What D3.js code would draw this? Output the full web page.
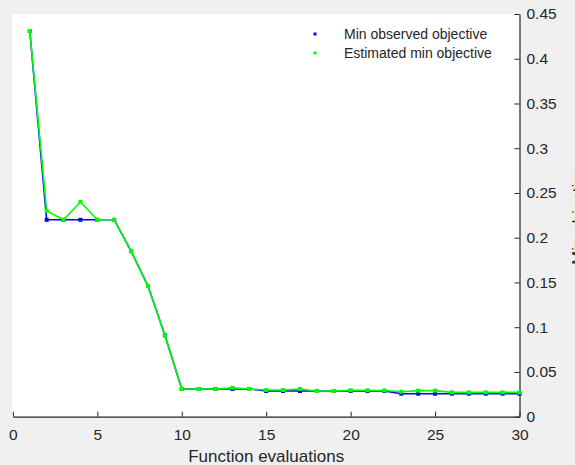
<!DOCTYPE html>
<html>
<head>
<meta charset="utf-8">
<script src="https://cdn.jsdelivr.net/npm/d3@7"></script>
<style>
  html, body { margin: 0; padding: 0; background: #f0f0f0; overflow: hidden; }
  svg { display: block; font-family: "Liberation Sans", Arial, Helvetica, sans-serif; }
</style>
</head>
<body>
<script>
// ---- data ----
const evaluations = d3.range(1, 31);
const minObserved = [0.431, 0.22, 0.22, 0.22, 0.22, 0.22, 0.185, 0.146, 0.091, 0.031,
  0.031, 0.031, 0.031, 0.031, 0.0287, 0.0287, 0.0287, 0.0287, 0.0287, 0.0287,
  0.0287, 0.0287, 0.0257, 0.0257, 0.0257, 0.0257, 0.0257, 0.0257, 0.0257, 0.0257];
const estimatedMin = [0.431, 0.230, 0.22, 0.240, 0.22, 0.22, 0.185, 0.146, 0.091, 0.031,
  0.031, 0.031, 0.0324, 0.031, 0.0298, 0.0298, 0.031, 0.0287, 0.0287, 0.0295,
  0.0295, 0.0293, 0.0279, 0.0291, 0.0291, 0.0272, 0.0272, 0.0272, 0.0272, 0.0272];
const xTicks = [0, 5, 10, 15, 20, 25, 30];
const yTicks = [0, 0.05, 0.1, 0.15, 0.2, 0.25, 0.3, 0.35, 0.4, 0.45];
const seriesNames = ["Min observed objective", "Estimated min objective"];
const seriesColors = ["#0000ff", "#00ff00"];

const W = 575, H = 465;
const axisColor = "#262626";
const svg = d3.select("body").append("svg").attr("width", W).attr("height", H);

svg.append("rect").attr("width", W).attr("height", H).attr("fill", "#f0f0f0");

const x = d3.scaleLinear().domain([0, 30]).range([12.9, 519.5]);
const y = d3.scaleLinear().domain([0, 0.45]).range([416.7, 14]);

// white plot area
svg.append("rect")
  .attr("x", 12).attr("y", 14)
  .attr("width", x(30) - 12).attr("height", y(0) - 14)
  .attr("fill", "#ffffff");

// x axis (bottom)
const xAxis = d3.axisBottom(x).tickValues(xTicks).tickFormat(d3.format("d"))
  .tickSizeInner(-5).tickSizeOuter(0).tickPadding(12);
const gx = svg.append("g").attr("transform", `translate(0,${y(0)})`).call(xAxis);
gx.select(".domain").attr("stroke", axisColor).attr("stroke-width", 1.2);
gx.selectAll(".tick line").attr("stroke", axisColor);
gx.selectAll(".tick text").attr("fill", axisColor).attr("font-size", "15.5px")
  .attr("font-family", "Liberation Sans, Arial, sans-serif");

// y axis (right)
const yAxis = d3.axisRight(y).tickValues(yTicks).tickFormat(d => d3.format("")(+d.toFixed(2)))
  .tickSizeInner(-5).tickSizeOuter(0).tickPadding(7);
const gy = svg.append("g").attr("transform", `translate(${x(30)},0)`).call(yAxis);
gy.select(".domain").attr("stroke", axisColor).attr("stroke-width", 1.2);
gy.selectAll(".tick line").attr("stroke", axisColor);
gy.selectAll(".tick text").attr("fill", axisColor).attr("font-size", "15.5px")
  .attr("font-family", "Liberation Sans, Arial, sans-serif");

// axis labels
svg.append("text")
  .attr("x", (x(0) + x(30)) / 2).attr("y", 462)
  .attr("text-anchor", "middle").attr("font-size", "17px").attr("fill", axisColor)
  .text("Function evaluations");

svg.append("text")
  .attr("transform", `translate(584,${(y(0) + y(0.45)) / 2}) rotate(-90)`)
  .attr("text-anchor", "middle").attr("font-size", "17px").attr("fill", axisColor)
  .text("Min objective");

// series
const seriesData = [minObserved, estimatedMin];
const line = d3.line().x((d, i) => x(evaluations[i])).y(d => y(d));
seriesData.forEach((vals, s) => {
  const g = svg.append("g");
  g.append("path").datum(vals)
    .attr("d", line).attr("fill", "none")
    .attr("stroke", seriesColors[s]).attr("stroke-width", 1.6)
    .attr("stroke-linejoin", "round");
  g.selectAll("rect").data(vals).enter().append("rect")
    .attr("x", (d, i) => x(evaluations[i]) - 2)
    .attr("y", d => y(d) - 2)
    .attr("width", 4).attr("height", 4)
    .attr("fill", seriesColors[s]);
});

// legend
const legendY = [34, 53];
seriesNames.forEach((name, s) => {
  svg.append("rect")
    .attr("x", 313.5).attr("y", legendY[s] - 1.5)
    .attr("width", 3).attr("height", 3)
    .attr("fill", seriesColors[s]);
  svg.append("text")
    .attr("x", 344).attr("y", legendY[s] + 5)
    .attr("font-size", "14px").attr("fill", axisColor)
    .text(name);
});
</script>
</body>
</html>
